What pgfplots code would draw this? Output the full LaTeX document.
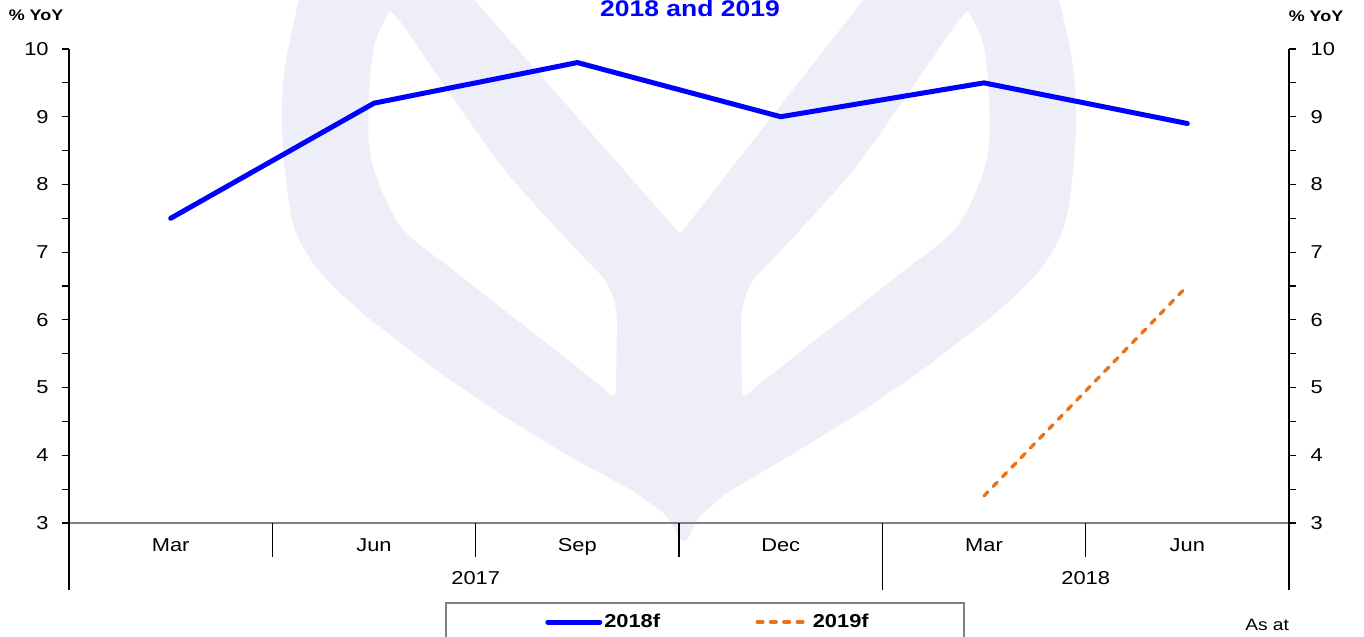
\documentclass[border=0pt]{standalone}
\usepackage{pgfplots}
\pgfplotsset{compat=1.18}
\usepackage{pgfplotstable}
\usepackage{fontspec}
\setmainfont[FakeStretch=1.17]{Liberation Sans}
\definecolor{wm}{RGB}{237,238,248}
\definecolor{orng}{RGB}{234,114,24}
\definecolor{axgray}{RGB}{128,128,128}
\pgfplotstableread{
x y
0 7.5
1 9.2
2 9.8
3 9.0
4 9.5
5 8.9
}\seriesA
\pgfplotstableread{
x y
4 3.4
5 6.5
}\seriesB
\begin{document}
\begin{tikzpicture}[x=0.75pt,y=0.75pt]
\useasboundingbox (-69,-113) rectangle (1295,523);
\begin{scope}[shift={(-69,523)},yscale=-1]
% watermark
\fill[wm] plot[smooth,tension=0.6] coordinates {(300,-5)(286,60)(282,107)(284,160)(291,215)(303,247)(327,280)(367,317)}
  -- (433,368) -- (500,414) -- (567,455) -- (633,491) -- (662,512)
  .. controls (674,522) and (678,541) .. (684,541)
  .. controls (690,541) and (692,526) .. (702,514)
  -- (725,494) -- (791,455) -- (858,414) -- (925,368) -- (991,317)
  -- plot[smooth,tension=0.6] coordinates {(991,317)(1031,280)(1055,247)(1067,215)(1074,160)(1076,107)(1072,60)(1058,-5)}
  -- (867,-5) -- (680,234) -- (470,-5) -- cycle;
\fill[white] plot[smooth,tension=0.6] coordinates {(390,11)(376,40)(370,80)(369,143)(380,186)(403,229)(443,262)}
  -- (604,388)
  .. controls (610,395) and (615,400) .. (616,390)
  -- (617,322) .. controls (616,300) and (610,285) .. (598,272)
  -- plot[smooth,tension=0.5] coordinates {(598,272)(570,243)(503,168)(437,75)(402,24)(390,11)} -- cycle;
\begin{scope}[shift={(1358,0)},xscale=-1]
\fill[white] plot[smooth,tension=0.6] coordinates {(390,11)(376,40)(370,80)(369,143)(380,186)(403,229)(443,262)}
  -- (604,388)
  .. controls (610,395) and (615,400) .. (616,390)
  -- (617,322) .. controls (616,300) and (610,285) .. (598,272)
  -- plot[smooth,tension=0.5] coordinates {(598,272)(570,243)(503,168)(437,75)(402,24)(390,11)} -- cycle;
\end{scope}
% texts
\node[anchor=base, font=\fontsize{17}{17}\selectfont\bfseries, text=blue, inner sep=0pt] at (690,16.5) {2018 and 2019};
\node[anchor=base, font=\fontsize{11.5}{11.5}\selectfont\bfseries, inner sep=0pt] at (36,21) {\% YoY};
\node[anchor=base, font=\fontsize{11.5}{11.5}\selectfont\bfseries, inner sep=0pt] at (1316,21.5) {\% YoY};
\node[anchor=base west, font=\fontsize{12.3}{12.3}\selectfont, inner sep=0pt] at (1245,630) {As at};
\draw[axgray, line width=0.9pt] (446,645) -- (446,603) -- (964,603) -- (964,645);
\end{scope}

\begin{axis}[
  anchor=south west,
  scale only axis, width=915pt, height=355.5pt,
  xmin=-0.5, xmax=5.5, ymin=3, ymax=10,
  axis y line*=left, axis x line*=bottom,
  x axis line style={axgray, line width=1.5pt},
  y axis line style={black, line width=0.8pt},
  tick align=outside,
  major tick length=5.25pt, minor tick length=5.25pt,
  tick style={black, line width=0.8pt},
  major x tick style={draw=none},
  xtick={0,1,2,3,4,5},
  xticklabels={Mar,Jun,Sep,Dec,Mar,Jun},
  xticklabel style={anchor=base, yshift=-16pt, font=\fontsize{14}{14}\selectfont},
  ytick={3,4,5,6,7,8,9,10},
  minor y tick num=1,
  yticklabel style={anchor=east, xshift=-6.5pt, font=\fontsize{14}{14}\selectfont},
  /pgf/number format/assume math mode=true,
  clip=false,
  legend columns=2,
  legend image code/.code={\draw[#1] (0pt,0pt) -- (39pt,0pt);},
  legend style={draw=none, fill=none, inner sep=0pt, at={(0.3902,-0.2089)}, anchor=west,
    font=\fontsize{14}{14}\selectfont\bfseries, column sep=0pt,
    nodes={inner xsep=1.5pt}},
]
\addplot[blue, line width=3.75pt, line cap=round] table {\seriesA};
\addlegendentry{2018f\hspace*{70pt}}
\addplot[orng, line width=2.5pt, line cap=round, dash pattern=on 4.3pt off 5.7pt] table {\seriesB};
\addlegendentry{2019f}
\pgfplotsinvokeforeach{0.5,1.5,2.5,4.5}{\draw[black, line width=0.8pt] (axis cs:#1,3) -- ++(0pt,-25.5pt);}
\pgfplotsinvokeforeach{-0.5,3.5,5.5}{\draw[black, line width=0.8pt] (axis cs:#1,3) -- ++(0pt,-50.25pt);}
\node[font=\fontsize{14}{14}\selectfont, inner sep=0pt] at (axis cs:1.5,3) [yshift=-41.25pt] {2017};
\node[font=\fontsize{14}{14}\selectfont, inner sep=0pt] at (axis cs:4.5,3) [yshift=-41.25pt] {2018};
\end{axis}

\begin{axis}[
  anchor=south west,
  scale only axis, width=915pt, height=355.5pt,
  xmin=-0.5, xmax=5.5, ymin=3, ymax=10,
  axis y line*=right, hide x axis,
  y axis line style={black, line width=0.8pt},
  tick align=outside,
  major tick length=5.25pt, minor tick length=5.25pt,
  tick style={black, line width=0.8pt},
  ytick={3,4,5,6,7,8,9,10},
  minor y tick num=1,
  yticklabel style={anchor=west, xshift=7.5pt, font=\fontsize{14}{14}\selectfont},
  /pgf/number format/assume math mode=true,
]
\end{axis}
\end{tikzpicture}
\end{document}
